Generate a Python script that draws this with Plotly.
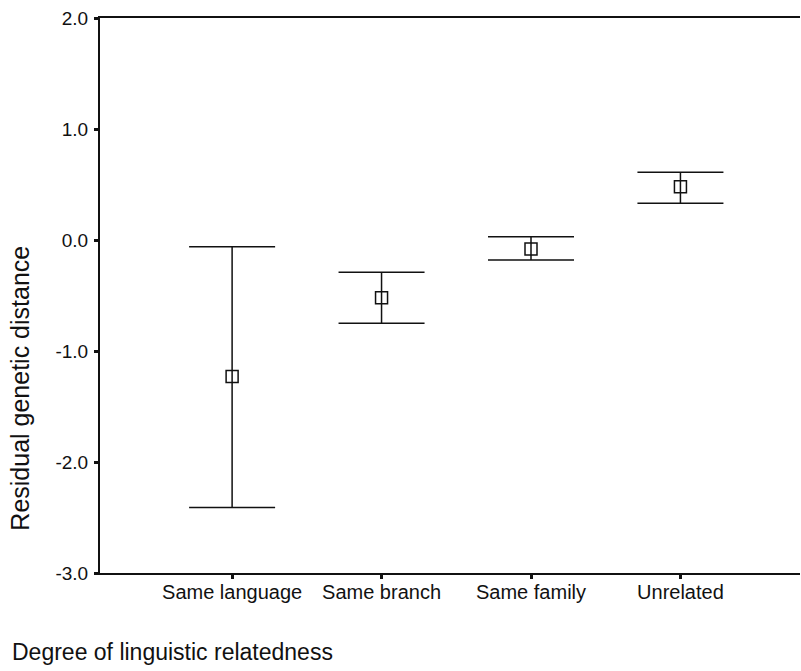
import plotly.graph_objects as go

categories = ["Same language", "Same branch", "Same family", "Unrelated"]
positions = [1, 2, 3, 4]
means = [-1.23, -0.52, -0.08, 0.48]
upper = [-0.06, -0.29, 0.03, 0.61]
lower = [-2.41, -0.75, -0.18, 0.33]
y_ticks = [2.0, 1.0, 0.0, -1.0, -2.0, -3.0]
y_tick_text = ["2.0", "1.0", "0.0", "-1.0", "-2.0", "-3.0"]

err_plus = [u - m for u, m in zip(upper, means)]
err_minus = [m - l for m, l in zip(means, lower)]

ink = "#111111"
fig = go.Figure()
fig.add_trace(go.Scatter(
    x=positions, y=means, mode="markers",
    marker=dict(symbol="square-open", size=12, color=ink, line=dict(width=1.5, color=ink)),
    error_y=dict(type="data", symmetric=False, array=err_plus, arrayminus=err_minus,
                 width=43, thickness=1.5, color=ink),
    showlegend=False, hoverinfo="skip",
))

fig.update_layout(
    width=801, height=671,
    margin=dict(l=100, r=1, t=18, b=98),
    paper_bgcolor="white", plot_bgcolor="white",
    font=dict(family="Liberation Sans, Arial, sans-serif", color=ink),
    xaxis=dict(range=[0.116, 4.80], tickmode="array", tickvals=positions, ticktext=categories,
               showgrid=False, zeroline=False, showline=True, linecolor=ink, linewidth=2,
               mirror=True, ticks="outside", ticklen=4, tickwidth=3, tickcolor=ink,
               ticklabelstandoff=-4,
               tickfont=dict(size=20, color=ink)),
    yaxis=dict(range=[-3, 2], tickmode="array", tickvals=y_ticks, ticktext=y_tick_text,
               showgrid=False, zeroline=False, showline=True, linecolor=ink, linewidth=2,
               ticks="outside", ticklen=4, tickwidth=3, tickcolor=ink,
               ticklabelstandoff=2,
               tickfont=dict(size=19, color=ink)),
    annotations=[
        dict(text="Residual genetic distance", xref="paper", yref="paper",
             x=-0.1136, y=0.333, xanchor="center", yanchor="middle", textangle=-90,
             showarrow=False, font=dict(size=25, color=ink)),
        dict(text="Degree of linguistic relatedness", xref="paper", yref="paper",
             x=-0.128, y=-0.142, xanchor="left", yanchor="middle",
             showarrow=False, font=dict(size=23, color=ink)),
    ],
)

fig.write_html(
    "out.html",
    config={"displayModeBar": False},
    post_script="document.body.style.margin='0';document.body.style.overflow='hidden';",
)
